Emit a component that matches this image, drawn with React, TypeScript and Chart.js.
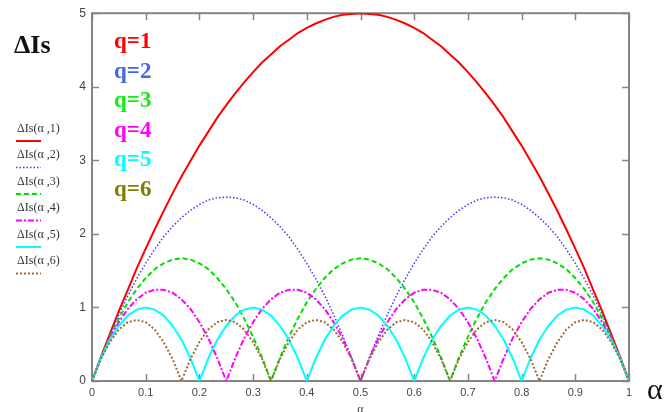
import React, { useEffect, useRef } from "react";
import { Chart, registerables } from "chart.js";

Chart.register(...registerables);

// α grid (x values)
const alphaValues = [
  0, 0.0167, 0.0333, 0.05, 0.0667, 0.0833, 0.1, 0.1167, 0.1333, 0.15,
  0.1667, 0.1833, 0.2, 0.2167, 0.2333, 0.25, 0.2667, 0.2833, 0.3, 0.3167,
  0.3333, 0.35, 0.3667, 0.3833, 0.4, 0.4167, 0.4333, 0.45, 0.4667, 0.4833,
  0.5, 0.5167, 0.5333, 0.55, 0.5667, 0.5833, 0.6, 0.6167, 0.6333, 0.65,
  0.6667, 0.6833, 0.7, 0.7167, 0.7333, 0.75, 0.7667, 0.7833, 0.8, 0.8167,
  0.8333, 0.85, 0.8667, 0.8833, 0.9, 0.9167, 0.9333, 0.95, 0.9667, 0.9833,
  1,
];

const dIs1 = [
  0, 0.33, 0.64, 0.95, 1.24, 1.53, 1.8, 2.06, 2.31, 2.55,
  2.78, 2.99, 3.2, 3.39, 3.58, 3.75, 3.91, 4.06, 4.2, 4.33,
  4.44, 4.55, 4.64, 4.73, 4.8, 4.86, 4.91, 4.95, 4.98, 4.99,
  5, 4.99, 4.98, 4.95, 4.91, 4.86, 4.8, 4.73, 4.64, 4.55,
  4.44, 4.33, 4.2, 4.06, 3.91, 3.75, 3.58, 3.39, 3.2, 2.99,
  2.78, 2.55, 2.31, 2.06, 1.8, 1.53, 1.24, 0.95, 0.64, 0.33,
  0,
];

const dIs2 = [
  0, 0.32, 0.62, 0.9, 1.16, 1.39, 1.6, 1.79, 1.96, 2.1,
  2.22, 2.32, 2.4, 2.46, 2.49, 2.5, 2.49, 2.46, 2.4, 2.32,
  2.22, 2.1, 1.96, 1.79, 1.6, 1.39, 1.16, 0.9, 0.62, 0.32,
  0, 0.32, 0.62, 0.9, 1.16, 1.39, 1.6, 1.79, 1.96, 2.1,
  2.22, 2.32, 2.4, 2.46, 2.49, 2.5, 2.49, 2.46, 2.4, 2.32,
  2.22, 2.1, 1.96, 1.79, 1.6, 1.39, 1.16, 0.9, 0.62, 0.32,
  0,
];

const dIs3 = [
  0, 0.32, 0.6, 0.85, 1.07, 1.25, 1.4, 1.52, 1.6, 1.65,
  1.67, 1.65, 1.6, 1.52, 1.4, 1.25, 1.07, 0.85, 0.6, 0.32,
  0, 0.32, 0.6, 0.85, 1.07, 1.25, 1.4, 1.52, 1.6, 1.65,
  1.67, 1.65, 1.6, 1.52, 1.4, 1.25, 1.07, 0.85, 0.6, 0.32,
  0, 0.32, 0.6, 0.85, 1.07, 1.25, 1.4, 1.52, 1.6, 1.65,
  1.67, 1.65, 1.6, 1.52, 1.4, 1.25, 1.07, 0.85, 0.6, 0.32,
  0,
];

const dIs4 = [
  0, 0.31, 0.58, 0.8, 0.98, 1.11, 1.2, 1.24, 1.24, 1.2, 1.11, 0.98, 0.8, 0.58, 0.31,
  0, 0.31, 0.58, 0.8, 0.98, 1.11, 1.2, 1.24, 1.24, 1.2, 1.11, 0.98, 0.8, 0.58, 0.31,
  0, 0.31, 0.58, 0.8, 0.98, 1.11, 1.2, 1.24, 1.24, 1.2, 1.11, 0.98, 0.8, 0.58, 0.31,
  0, 0.31, 0.58, 0.8, 0.98, 1.11, 1.2, 1.24, 1.24, 1.2, 1.11, 0.98, 0.8, 0.58, 0.31,
  0,
];

const dIs5 = [
  0, 0.31, 0.56, 0.75, 0.89, 0.97, 1, 0.97, 0.89, 0.75, 0.56, 0.31,
  0, 0.31, 0.56, 0.75, 0.89, 0.97, 1, 0.97, 0.89, 0.75, 0.56, 0.31,
  0, 0.31, 0.56, 0.75, 0.89, 0.97, 1, 0.97, 0.89, 0.75, 0.56, 0.31,
  0, 0.31, 0.56, 0.75, 0.89, 0.97, 1, 0.97, 0.89, 0.75, 0.56, 0.31,
  0, 0.31, 0.56, 0.75, 0.89, 0.97, 1, 0.97, 0.89, 0.75, 0.56, 0.31,
  0,
];

const dIs6 = [
  0, 0.3, 0.53, 0.7, 0.8, 0.83, 0.8, 0.7, 0.53, 0.3,
  0, 0.3, 0.53, 0.7, 0.8, 0.83, 0.8, 0.7, 0.53, 0.3,
  0, 0.3, 0.53, 0.7, 0.8, 0.83, 0.8, 0.7, 0.53, 0.3,
  0, 0.3, 0.53, 0.7, 0.8, 0.83, 0.8, 0.7, 0.53, 0.3,
  0, 0.3, 0.53, 0.7, 0.8, 0.83, 0.8, 0.7, 0.53, 0.3,
  0, 0.3, 0.53, 0.7, 0.8, 0.83, 0.8, 0.7, 0.53, 0.3,
  0,
];

const seriesValues = [dIs1, dIs2, dIs3, dIs4, dIs5, dIs6];
const seriesNames = [
  "ΔIs(α ,1)",
  "ΔIs(α ,2)",
  "ΔIs(α ,3)",
  "ΔIs(α ,4)",
  "ΔIs(α ,5)",
  "ΔIs(α ,6)",
];
const qLabels = ["q=1", "q=2", "q=3", "q=4", "q=5", "q=6"];
const xTicks = [0, 0.1, 0.2, 0.3, 0.4, 0.5, 0.6, 0.7, 0.8, 0.9, 1];
const yTicks = [0, 1, 2, 3, 4, 5];
const yTitle = "ΔIs";
const xTitle = "α";

const lineStyles = [
  { color: "#ff0000", width: 2, dash: [] as number[] },
  { color: "#3a3aff", width: 1.5, dash: [1.5, 2] },
  { color: "#00e000", width: 2, dash: [5, 3] },
  { color: "#ff00ff", width: 2, dash: [6, 2, 2, 2] },
  { color: "#00ffff", width: 2, dash: [] as number[] },
  { color: "#a0693a", width: 2, dash: [2, 2] },
];
const qLabelColors = ["#ff0000", "#4466ee", "#11ee11", "#ff00ff", "#00ffff", "#808000"];

const framePlugin = {
  id: "mathcadFrame",
  beforeDatasetsDraw(chart: any) {
    const ctx = chart.ctx;
    const { left, right, top, bottom } = chart.chartArea;
    const xs = chart.scales.x;
    const ys = chart.scales.y;
    ctx.save();
    ctx.strokeStyle = "#858585";
    ctx.lineWidth = 2;
    ctx.strokeRect(left, top, right - left, bottom - top);
    ctx.lineWidth = 1.5;
    ctx.beginPath();
    for (const v of xTicks) {
      const px = Math.round(xs.getPixelForValue(v)) + 0.5;
      ctx.moveTo(px, bottom);
      ctx.lineTo(px, bottom - 7);
      ctx.moveTo(px, top);
      ctx.lineTo(px, top + 7);
    }
    for (const v of yTicks) {
      const py = Math.round(ys.getPixelForValue(v)) + 0.5;
      ctx.moveTo(left, py);
      ctx.lineTo(left + 7, py);
      ctx.moveTo(right, py);
      ctx.lineTo(right - 7, py);
    }
    ctx.stroke();
    ctx.restore();
  },
  afterDraw(chart: any) {
    const ctx = chart.ctx;
    const { left, right } = chart.chartArea;
    ctx.save();
    ctx.textAlign = "left";
    ctx.textBaseline = "alphabetic";

    // y title
    ctx.fillStyle = "#111";
    ctx.font = "bold 26px 'Liberation Serif', serif";
    ctx.fillText(yTitle, 14, 53);

    // legend
    for (let i = 0; i < seriesNames.length; i++) {
      const base = 131.5 + i * 26.5;
      ctx.fillStyle = "#333";
      ctx.font = "12px 'Liberation Serif', serif";
      ctx.fillText(seriesNames[i], 17, base);
      const st = lineStyles[i];
      ctx.strokeStyle = st.color;
      ctx.lineWidth = st.width;
      ctx.setLineDash(st.dash);
      ctx.beginPath();
      ctx.moveTo(16, base + 9.5);
      ctx.lineTo(41, base + 9.5);
      ctx.stroke();
    }
    ctx.setLineDash([]);

    // q labels
    ctx.font = "bold 23px 'Liberation Serif', serif";
    for (let i = 0; i < qLabels.length; i++) {
      ctx.fillStyle = qLabelColors[i];
      ctx.fillText(qLabels[i], 114, 48 + i * 29.5);
    }

    // x titles
    ctx.fillStyle = "#111";
    ctx.font = "30px 'Liberation Serif', serif";
    ctx.fillText(xTitle, 647, 399);
    ctx.fillStyle = "#444";
    ctx.font = "12px 'Liberation Serif', serif";
    ctx.textAlign = "center";
    ctx.fillText(xTitle, (left + right) / 2, 413);
    ctx.restore();
  },
};

export default function App() {
  const ref = useRef<HTMLCanvasElement>(null);

  useEffect(() => {
    if (!ref.current) return;
    const datasets = seriesValues.map((vals, i) => ({
      label: seriesNames[i],
      data: alphaValues.map((a, k) => ({ x: a, y: vals[k] })),
      borderColor: lineStyles[i].color,
      backgroundColor: lineStyles[i].color,
      borderWidth: lineStyles[i].width,
      borderDash: lineStyles[i].dash,
      pointRadius: 0,
      tension: 0,
      fill: false,
      order: 6 - i,
    }));

    const chart = new Chart(ref.current, {
      type: "line",
      data: { datasets },
      options: {
        responsive: false,
        animation: false,
        layout: { padding: { top: 13, right: 37, left: 0, bottom: 0 } },
        plugins: {
          legend: { display: false },
          tooltip: { enabled: false },
        },
        scales: {
          x: {
            type: "linear",
            min: 0,
            max: 1,
            afterBuildTicks: (s: any) => {
              s.ticks = xTicks.map((v) => ({ value: v }));
            },
            afterFit: (s: any) => {
              s.height = 31;
            },
            grid: { display: false, drawTicks: false, tickLength: 0 },
            border: { display: false },
            ticks: {
              autoSkip: false,
              maxRotation: 0,
              padding: 5,
              color: "#444",
              font: { family: "'Liberation Sans', Arial, sans-serif", size: 11 },
              callback: (v: any) => String(Math.round(Number(v) * 10) / 10),
            },
          },
          y: {
            type: "linear",
            min: 0,
            max: 5,
            afterBuildTicks: (s: any) => {
              s.ticks = yTicks.map((v) => ({ value: v }));
            },
            afterFit: (s: any) => {
              s.width = 92;
            },
            grid: { display: false, drawTicks: false, tickLength: 0 },
            border: { display: false },
            ticks: {
              padding: 6,
              color: "#444",
              font: { family: "'Liberation Sans', Arial, sans-serif", size: 12 },
              callback: (v: any) => String(v),
            },
          },
        },
      },
      plugins: [framePlugin],
    } as any);

    return () => chart.destroy();
  }, []);

  return (
    <div
      style={{
        position: "fixed",
        left: 0,
        top: 0,
        width: 666,
        height: 412,
        background: "#ffffff",
      }}
    >
      <canvas
        ref={ref}
        width={666}
        height={412}
        style={{ display: "block", width: 666, height: 412 }}
      />
    </div>
  );
}
